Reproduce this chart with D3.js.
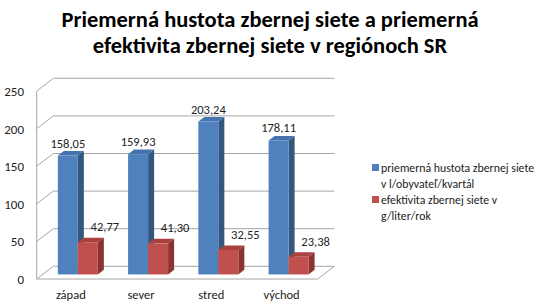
<!DOCTYPE html>
<html>
<head>
<meta charset="utf-8">
<script src="https://cdn.jsdelivr.net/npm/d3@7"></script>
<style>
html, body { margin: 0; padding: 0; background: #fff; }
svg { display: block; font-family: Carlito, Calibri, Lato, sans-serif; }
</style>
</head>
<body>
<svg id="chart" width="540" height="307"></svg>
<script>
// data
const categories = ['západ', 'sever', 'stred', 'východ'];
const hustota = [158.05, 159.93, 203.24, 178.11];
const efektivita = [42.77, 41.30, 32.55, 23.38];
const yTicks = [0, 50, 100, 150, 200, 250];
const seriesNames = [
  ['priemerná hustota zbernej siete', 'v l/obyvateľ/kvartál'],
  ['efektivita zbernej siete v', 'g/liter/rok']
];
const titleLines = ['Priemerná hustota zbernej siete a priemerná', 'efektivita zbernej siete v regiónoch SR'];

const fmt = v => d3.format('.2f')(v).replace('.', ',');

const svg = d3.select('#chart');

// front plane of the 3d box + depth vector
const x = d3.scaleBand().domain(categories).range([36.7, 317.7]);
const y = d3.scaleLinear().domain([0, 250]).range([279, 91]);
const DX = 16.7, DY = -12.7;
const f0 = 0.36, f1 = 0.72;   // bar depth (front/back fraction)
const barW = 20;

const colors = [
  { front: '#4f81bd', side: '#34577f', top: '#4573ad' },
  { front: '#c0504d', side: '#8a3431', top: '#a9423f' }
];
const gridColor = '#a6a6a6';

// title
svg.append('g').selectAll('text').data(titleLines).enter().append('text')
  .attr('x', 270).attr('y', (d, i) => 27 + i * 26)
  .attr('text-anchor', 'middle')
  .attr('font-weight', 700).attr('font-size', 22.5).attr('fill', '#000')
  .text(d => d);

const g = svg.append('g');

// walls / grid
const x0 = x.range()[0], x1 = x.range()[1];
yTicks.forEach(t => {
  const yy = y(t);
  g.append('path')
    .attr('d', `M${x0},${yy}L${x0 + DX},${yy + DY}L${x1 + DX},${yy + DY}`)
    .attr('fill', 'none').attr('stroke', gridColor).attr('stroke-width', 1);
});
g.append('line').attr('x1', x0).attr('x2', x0).attr('y1', y(0)).attr('y2', y(250))
  .attr('stroke', gridColor);
g.append('path')
  .attr('d', `M${x0},${y(0)}L${x1},${y(0)}L${x1 + DX},${y(0) + DY}`)
  .attr('fill', 'none').attr('stroke', gridColor);

// y tick labels
g.selectAll('text.ytick').data(yTicks).enter().append('text')
  .attr('class', 'ytick')
  .attr('x', 24).attr('y', d => y(d) + 5)
  .attr('text-anchor', 'end').attr('font-size', 13).attr('fill', '#222')
  .text(d => d);

// category labels
g.selectAll('text.xcat').data(categories).enter().append('text')
  .attr('class', 'xcat')
  .attr('x', d => x(d) + x.bandwidth() / 2 - 1)
  .attr('y', 299)
  .attr('text-anchor', 'middle').attr('font-size', 12.5).attr('fill', '#222')
  .text(d => d);

// bars
function drawBar(xl, v, c) {
  const ax = xl + f0 * DX, ay0 = y(0) + f0 * DY, ay1 = y(v) + f0 * DY;
  const ddx = (f1 - f0) * DX, ddy = (f1 - f0) * DY;
  const bar = g.append('g');
  bar.append('path')
    .attr('d', `M${ax + barW},${ay0}L${ax + barW + ddx},${ay0 + ddy}L${ax + barW + ddx},${ay1 + ddy}L${ax + barW},${ay1}Z`)
    .attr('fill', c.side);
  bar.append('path')
    .attr('d', `M${ax},${ay1}L${ax + ddx},${ay1 + ddy}L${ax + barW + ddx},${ay1 + ddy}L${ax + barW},${ay1}Z`)
    .attr('fill', c.top);
  bar.append('rect')
    .attr('x', ax).attr('y', ay1).attr('width', barW).attr('height', ay0 - ay1)
    .attr('fill', c.front);
  return { cx: ax + barW / 2, top: ay1 };
}

categories.forEach((cat, i) => {
  const mid = x(cat) + x.bandwidth() / 2;
  const b1 = drawBar(mid - barW, hustota[i], colors[0]);
  const b2 = drawBar(mid, efektivita[i], colors[1]);
  g.append('text').attr('x', b1.cx).attr('y', b1.top - 8)
    .attr('text-anchor', 'middle').attr('font-size', 12.5).attr('fill', '#222')
    .text(fmt(hustota[i]));
  g.append('text').attr('x', b2.cx + 17).attr('y', b2.top - 11)
    .attr('text-anchor', 'middle').attr('font-size', 12.5).attr('fill', '#222')
    .text(fmt(efektivita[i]));
});

// legend
const leg = svg.append('g');
seriesNames.forEach((lines, i) => {
  const top = 164 + i * 32;
  leg.append('rect').attr('x', 372).attr('y', top).attr('width', 7).attr('height', 7)
    .attr('fill', colors[i].front);
  lines.forEach((t, j) => {
    leg.append('text').attr('x', 381).attr('y', top + 7.5 + j * 16)
      .attr('font-size', 11.8).attr('fill', '#222').text(t);
  });
});
</script>
</body>
</html>
